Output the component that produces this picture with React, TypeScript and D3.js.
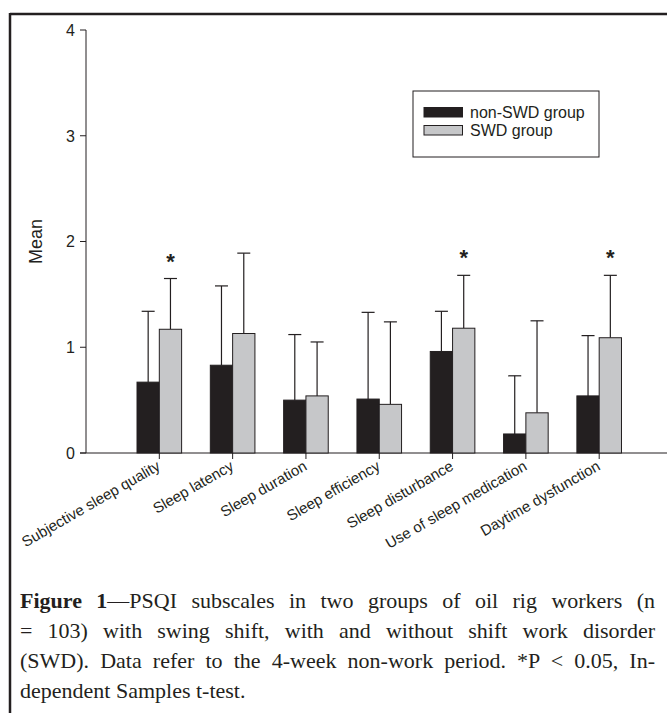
import React, { useRef, useEffect } from "react";
import * as d3 from "d3";

// values
const categories = [
  "Subjective sleep quality",
  "Sleep latency",
  "Sleep duration",
  "Sleep efficiency",
  "Sleep disturbance",
  "Use of sleep medication",
  "Daytime dysfunction",
];
const nonSwdMean = [0.67, 0.83, 0.5, 0.51, 0.96, 0.18, 0.54];
const nonSwdErr = [1.34, 1.58, 1.12, 1.33, 1.34, 0.73, 1.11];
const swdMean = [1.17, 1.13, 0.54, 0.46, 1.18, 0.38, 1.09];
const swdErr = [1.65, 1.89, 1.05, 1.24, 1.68, 1.25, 1.68];
const significant = [true, false, false, false, true, false, true];
const yTicks = [0, 1, 2, 3, 4];
const seriesNames = ["non-SWD group", "SWD group"];

const captionLines = [
  [{ t: "Figure 1", b: true }, { t: "—PSQI subscales in two groups of oil rig workers (n" }],
  [{ t: "= 103) with swing shift, with and without shift work disorder" }],
  [{ t: "(SWD). Data refer to the 4-week non-work period. *P < 0.05, In-" }],
  [{ t: "dependent Samples t-test." }],
];

const W = 667;
const H = 713;
const DARK = "#231f20";
const GREY = "#c6c7c9";
const SANS = "'Liberation Sans', Arial, sans-serif";
const SERIF = "'Liberation Serif', 'Times New Roman', serif";

export default function App() {
  const capRef = useRef<SVGGElement>(null);

  const x = d3.scaleLinear().domain([0, 8]).range([86, 672.5]);
  const y = d3.scaleLinear().domain([0, 4]).range([453, 30]);
  const barW = 22.3;
  const capW = 13;

  // justify caption lines
  useEffect(() => {
    const g = d3.select(capRef.current);
    g.selectAll<SVGTextElement, unknown>("text.just").each(function () {
      const el = this as SVGTextElement;
      el.style.wordSpacing = "0px";
      const len = el.getComputedTextLength();
      const spaces = (el.textContent || "").split(" ").length - 1;
      const target = 655 - 20;
      if (spaces > 0) el.style.wordSpacing = `${(target - len) / spaces}px`;
    });
  }, []);

  return (
    <svg width={W} height={H} style={{ position: "absolute", left: 0, top: 0, background: "#fff" }}>
      {/* frame */}
      <line x1={10} y1={14} x2={W} y2={14} stroke={DARK} strokeWidth={2.5} />
      <line x1={10} y1={13} x2={10} y2={H} stroke={DARK} strokeWidth={2.5} />

      {/* y axis */}
      <line x1={x(0)} y1={y(4)} x2={x(0)} y2={y(0)} stroke={DARK} strokeWidth={1} />
      {yTicks.map((t) => (
        <g key={t}>
          <line x1={x(0) - 6} x2={x(0)} y1={y(t)} y2={y(t)} stroke={DARK} />
          <text x={x(0) - 11} y={y(t)} dy="0.36em" textAnchor="end" fontSize={16} fontFamily={SANS} fill={DARK}>
            {t}
          </text>
        </g>
      ))}
      <text
        transform={`translate(36,${y(2)}) rotate(-90)`}
        textAnchor="middle"
        dy="0.36em"
        fontSize={18}
        fontFamily={SANS}
        fill={DARK}
      >
        Mean
      </text>

      {/* x axis */}
      <line x1={x(0) - 6} x2={W} y1={y(0)} y2={y(0)} stroke={DARK} strokeWidth={1} />

      {categories.map((c, i) => {
        const cx = x(i + 1);
        const bars = [
          { m: nonSwdMean[i], e: nonSwdErr[i], fill: DARK, x0: cx - barW },
          { m: swdMean[i], e: swdErr[i], fill: GREY, x0: cx },
        ];
        return (
          <g key={c}>
            {bars.map((b, j) => (
              <g key={j}>
                <line x1={b.x0 + barW / 2} x2={b.x0 + barW / 2} y1={y(b.m)} y2={y(b.e)} stroke={DARK} strokeWidth={1.2} />
                <line x1={b.x0 + barW / 2 - capW / 2} x2={b.x0 + barW / 2 + capW / 2} y1={y(b.e)} y2={y(b.e)} stroke={DARK} strokeWidth={1.2} />
                <rect x={b.x0} y={y(b.m)} width={barW} height={y(0) - y(b.m)} fill={b.fill} stroke={DARK} strokeWidth={1} />
              </g>
            ))}
            {significant[i] && (
              <text x={cx + barW / 2} y={y(swdErr[i]) - 10} textAnchor="middle" fontSize={22} fontWeight="bold" fontFamily={SANS} fill={DARK}>
                *
              </text>
            )}
            <line x1={cx} x2={cx} y1={y(0)} y2={y(0) + 6} stroke={DARK} />
            <text
              transform={`translate(${cx + 2},${y(0) + 16}) rotate(-30)`}
              textAnchor="end"
              fontSize={15}
              fontFamily={SANS}
              fill={DARK}
            >
              {c}
            </text>
          </g>
        );
      })}

      {/* legend */}
      <rect x={413} y={91} width={186} height={66} fill="#fff" stroke={DARK} strokeWidth={1} />
      {seriesNames.map((s, i) => (
        <g key={s}>
          <rect x={424} y={107.5 + i * 18} width={38.5} height={9.5} fill={i === 0 ? DARK : GREY} stroke={DARK} strokeWidth={1} />
          <text x={470} y={112.3 + i * 18} dy="0.36em" fontSize={16} fontFamily={SANS} fill={DARK}>
            {s}
          </text>
        </g>
      ))}

      {/* caption */}
      <g ref={capRef}>
        {captionLines.map((ln, i) => (
          <text
            key={i}
            className={i < captionLines.length - 1 ? "just" : ""}
            x={20}
            y={608 + i * 30}
            fontSize={22}
            fontFamily={SERIF}
            fill={DARK}
          >
            {ln.map((p, k) => (
              <tspan key={k} fontWeight={p.b ? "bold" : "normal"}>
                {p.t}
              </tspan>
            ))}
          </text>
        ))}
      </g>
    </svg>
  );
}
